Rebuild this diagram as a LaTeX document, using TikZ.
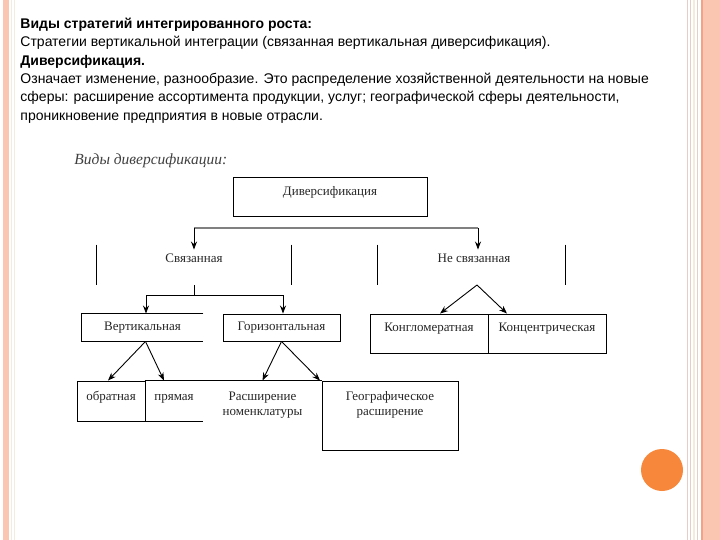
\documentclass[tikz,border=0pt]{standalone}
\usepackage{fontspec}
\setmainfont{Liberation Serif}
\setsansfont{Liberation Sans}
\usetikzlibrary{positioning, arrows, arrows.meta}
\definecolor{salmon}{HTML}{FBC6B1}
\definecolor{darksalmon}{HTML}{F2A385}
\definecolor{stripe}{HTML}{E3CFC6}
\definecolor{cream}{HTML}{F4EBDD}
\definecolor{ball}{HTML}{F7873A}
\tikzset{
	>={Stealth[length=8pt, width=6pt]}, % small filled arrow heads
	box/.style={draw, inner sep=0pt}, % closed frames of the diagram
	frame/.style={inner sep=0pt}, % frames that are only partly drawn
	lbl/.style={font=\fontsize{13}{15}\selectfont, text=black!85, inner sep=0pt,
		text height=9pt, text depth=3pt},
	arr/.style={->},
	bar/.style={draw=gray, line width=2pt},
}
\begin{document}
\begin{tikzpicture}[x=1pt, y=-1pt, line width=0.9pt]
	\useasboundingbox (0,0) rectangle (720,540);
	% slide border
	\fill[salmon] (3,0) rectangle (9,540);
	\draw[cream] (11.5,0) -- (11.5,540);
	\draw[cream] (14,0) -- (14,540);
	\draw[stripe] (687,0) -- (687,540);
	\draw[stripe] (690.5,0) -- (690.5,540);
	\draw[cream, line width=2pt] (694,0) -- (694,540);
	\draw[stripe] (697.5,0) -- (697.5,540);
	\fill[salmon] (701,0) rectangle (720,540);
	\fill[darksalmon] (701,0) rectangle (703,540);
	\fill[ball] (662,470) circle (21);
	% text of the slide
	\node[anchor=north west, align=left, inner sep=0pt,
		font=\sffamily\fontsize{14}{18.4}\selectfont] (intro) at (20,17.5)
		{\textbf{Виды стратегий интегрированного роста:}\\
		Стратегии вертикальной интеграции (связанная вертикальная диверсификация).\\
		\textbf{Диверсификация.}\\
		Означает изменение, разнообразие. Это распределение хозяйственной деятельности на новые\\
		сферы: расширение ассортимента продукции, услуг; географической сферы деятельности,\\
		проникновение предприятия в новые отрасли.};
	\node[anchor=west, inner sep=0pt, text=black!75,
		font=\itshape\fontsize{15.5}{17}\selectfont] (title) at (74,161) {Виды диверсификации:};
	% top level
	\node[box, minimum width=194, minimum height=39] (div) at (330,196.5) {};
	\node[lbl, below=10pt of div.north] (divt) {Диверсификация};
	\coordinate (barL) at (194,228);
	\coordinate (barR) at (478,228);
	% second level
	\node[frame, minimum width=194, minimum height=40] (svzg) at (194,265) {};
	\node[frame, minimum width=187, minimum height=40] (nsvg) at (471.5,265) {};
	\draw (svzg.north west) -- (svzg.south west) (svzg.north east) -- (svzg.south east);
	\draw (nsvg.north west) -- (nsvg.south west) (nsvg.north east) -- (nsvg.south east);
	\node[lbl] (svz) at (194,259) {Связанная};
	\node[lbl] (nsvz) at (474,259) {Не связанная};
	\draw[bar] (barL) -- (barR);
	\draw[arr] (barL) -- ([yshift=3pt]barL |- svz.north);
	\draw[arr] (barR) -- ([yshift=3pt]barR |- nsvz.north);
	% third level
	\node[frame, minimum width=121, minimum height=27] (vert) at (142.5,327.5) {};
	\draw (vert.north east) -- (vert.north west) -- (vert.south west) -- (vert.south east);
	\node[lbl] (vertt) at (vert) {Вертикальная};
	\node[box, minimum width=117, minimum height=27] (gor) at (281.5,327.5) {};
	\node[lbl] (gort) at (gor) {Горизонтальная};
	\node[box, minimum width=118, minimum height=39] (kong) at (429,333.5) {};
	\node[box, minimum width=118, minimum height=39] (konc) at (547,333.5) {};
	\node[lbl, below=8pt of kong.north] (kongt) {Конгломератная};
	\node[lbl, below=8pt of konc.north] (konct) {Концентрическая};
	\coordinate (fork) at (194,295);
	\coordinate (nsapex) at (477,285);
	\draw (svzg.south) -- (fork);
	\draw[arr] (fork) -| ([xshift=3.5]vert.north);
	\draw[arr] (fork) -| ([xshift=1.5]gor.north);
	\draw[arr] (nsapex) -- ([xshift=11]kong.north);
	\draw[arr] (nsapex) -- ([xshift=-40]konc.north);
	% fourth level
	\node[box, minimum width=68, minimum height=40] (obr) at (111,401) {};
	\node[frame, minimum width=58, minimum height=40] (pr) at (174,401) {};
	\node[frame, minimum width=119, minimum height=40] (rash) at (262.5,401) {};
	\node[box, minimum width=136, minimum height=69] (geo) at (390,415.5) {};
	\draw (pr.north west) -- (pr.north east) (pr.south west) -- (pr.south east);
	\draw (rash.north west) -- (rash.north east);
	\node[lbl, below=10pt of obr.north] (obrt) {обратная};
	\node[lbl, below=10pt of pr.north] (prt) {прямая};
	\node[lbl, align=center, below=9pt of rash.north, text height=, text depth=] (rasht) {\strut Расширение\\номенклатуры};
	\node[lbl, align=center, below=9pt of geo.north, text height=, text depth=] (geot) {\strut Географическое\\расширение};
	\draw[arr] ([xshift=3]vert.south) -- ([xshift=-3]obr.north);
	\draw[arr] ([xshift=3]vert.south) -- ([xshift=-10]pr.north);
	\draw[arr] (gor.south) -- (rash.north);
	\draw[arr] (gor.south) -- ([xshift=-70]geo.north);
\end{tikzpicture}
\end{document}
